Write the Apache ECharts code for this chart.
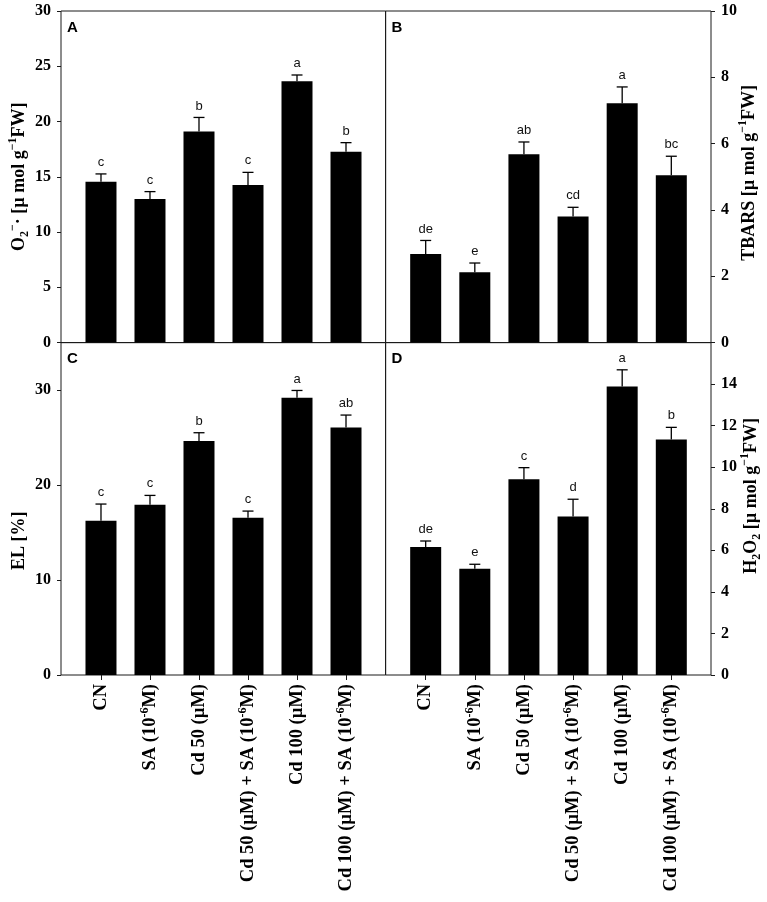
<!DOCTYPE html>
<html>
<head>
<meta charset="utf-8">
<script src="https://cdn.jsdelivr.net/npm/echarts@6/dist/echarts.min.js"></script>
<style>
html,body{margin:0;padding:0;background:#fff;}
#chart{width:767px;height:902px;}
</style>
</head>
<body>
<div id="chart"></div>
<script>
// ---- data ----
const categories = ['CN', 'SA (10{sup|-6}M)', 'Cd 50 (µM)', 'Cd 50 (µM) + SA (10{sup|-6}M)', 'Cd 100 (µM)', 'Cd 100 (µM) + SA (10{sup|-6}M)'];
const positions = [0, 1, 2, 3, 4, 5];

const o2Mean = [14.56, 13.0, 19.1, 14.25, 23.64, 17.27];
const o2Err = [0.70, 0.66, 1.27, 1.15, 0.57, 0.82];
const o2Sig = ['c', 'c', 'b', 'c', 'a', 'b'];

const tbarsMean = [2.67, 2.12, 5.68, 3.80, 7.22, 5.05];
const tbarsErr = [0.41, 0.28, 0.37, 0.28, 0.49, 0.57];
const tbarsSig = ['de', 'e', 'ab', 'cd', 'a', 'bc'];

const elMean = [16.25, 17.93, 24.63, 16.56, 29.19, 26.07];
const elErr = [1.75, 0.98, 0.88, 0.70, 0.77, 1.30];
const elSig = ['c', 'c', 'b', 'c', 'a', 'ab'];

const h2o2Mean = [6.16, 5.12, 9.42, 7.63, 13.89, 11.33];
const h2o2Err = [0.29, 0.21, 0.56, 0.83, 0.80, 0.59];
const h2o2Sig = ['de', 'e', 'c', 'd', 'a', 'b'];

const panelLetters = ['A', 'B', 'C', 'D'];

// ---- layout / style ----
const serif = '"Liberation Serif", "Times New Roman", serif';
const sans = '"Liberation Sans", Arial, sans-serif';
const lineColor = '#1a1a1a';

const richName = {
  sup: { fontSize: 12, fontWeight: 'bold', fontFamily: serif, verticalAlign: 'top', lineHeight: 24, color: '#000' },
  sub: { fontSize: 12, fontWeight: 'bold', fontFamily: serif, verticalAlign: 'bottom', lineHeight: 24, color: '#000' }
};
const richLabel = {
  sup: { fontSize: 12, fontWeight: 'bold', fontFamily: serif, verticalAlign: 'top', lineHeight: 22, color: '#000' }
};

const panels = [
  { mean: o2Mean, err: o2Err, sig: o2Sig, grid: { left: 61, top: 11, width: 324.6, height: 331.6 },
    y: { min: 0, max: 30, interval: 5, position: 'left', showMax: true,
         name: 'O{sub|2}{sup|−}· [µ mol g{sup|−1}FW]', nameGap: 30, pad: [0, 0, 0, 0] }, bottom: false },
  { mean: tbarsMean, err: tbarsErr, sig: tbarsSig, grid: { left: 385.6, top: 11, width: 325.4, height: 331.6 },
    y: { min: 0, max: 10, interval: 2, position: 'right', showMax: true,
         name: 'TBARS [µ mol g{sup|−1}FW]', nameGap: 26, pad: [0, 0, 0, 8] }, bottom: false },
  { mean: elMean, err: elErr, sig: elSig, grid: { left: 61, top: 342.6, width: 324.6, height: 332.4 },
    y: { min: 0, max: 35, interval: 5, labelValues: [0, 10, 20, 30], position: 'left', showMax: true,
         name: 'EL [%]', nameGap: 30, pad: [0, 64, 0, 0] }, bottom: true },
  { mean: h2o2Mean, err: h2o2Err, sig: h2o2Sig, grid: { left: 385.6, top: 342.6, width: 325.4, height: 332.4 },
    y: { min: 0, max: 16, interval: 2, position: 'right', showMax: false,
         name: 'H{sub|2}O{sub|2} [µ mol g{sup|−1}FW]', nameGap: 28, pad: [0, 0, 0, 26] }, bottom: true }
];

const grids = [], xAxes = [], yAxes = [], series = [], titles = [];

panels.forEach((p, i) => {
  grids.push(Object.assign({ show: true, borderColor: lineColor, borderWidth: 1, backgroundColor: 'transparent',
    containLabel: false, outerBoundsMode: 'none' }, p.grid));

  xAxes.push({
    type: 'value', gridIndex: i, min: -0.816, max: 5.808,
    axisLine: { show: false, onZero: false },
    splitLine: { show: false },
    axisTick: { show: p.bottom, customValues: positions, length: 5, lineStyle: { color: lineColor, width: 1 } },
    axisLabel: {
      show: p.bottom, customValues: positions, rotate: 90, margin: 9,
      formatter: v => categories[Math.round(v)],
      fontFamily: serif, fontWeight: 'bold', fontSize: 18.5, color: '#000', lineHeight: 22,
      rich: richLabel
    }
  });

  const yLabel = {
    fontFamily: serif, fontWeight: 'bold', fontSize: 16, color: '#000', margin: 10,
    showMaxLabel: p.y.showMax
  };
  if (p.y.labelValues) yLabel.customValues = p.y.labelValues;
  const yTick = { show: true, length: 4, lineStyle: { color: lineColor, width: 1 } };
  if (p.y.labelValues) yTick.customValues = p.y.labelValues;
  yAxes.push({
    type: 'value', gridIndex: i, min: p.y.min, max: p.y.max, interval: p.y.interval,
    position: p.y.position,
    axisLine: { show: false, onZero: false },
    splitLine: { show: false },
    axisTick: yTick,
    axisLabel: yLabel,
    name: p.y.name,
    nameLocation: 'middle',
    nameRotate: 90,
    nameGap: p.y.nameGap,
    nameMoveOverlap: false,
    nameTextStyle: {
      fontFamily: serif, fontWeight: 'bold', fontSize: 18, color: '#000', lineHeight: 24,
      padding: p.y.pad, rich: richName
    }
  });

  series.push({
    type: 'bar', xAxisIndex: i, yAxisIndex: i,
    barWidth: 31,
    itemStyle: { color: '#000' },
    data: p.mean.map((v, k) => [positions[k], v]),
    z: 2
  });

  const sig = p.sig;
  series.push({
    type: 'custom', xAxisIndex: i, yAxisIndex: i,
    clip: false, z: 3,
    data: p.mean.map((v, k) => [positions[k], v, p.err[k]]),
    encode: { x: 0, y: 1 },
    renderItem: (params, api) => {
      const x = api.value(0), v = api.value(1), e = api.value(2);
      const base = api.coord([x, v]);
      const top = api.coord([x, v + e]);
      const cap = 5.5;
      return {
        type: 'group',
        children: [
          { type: 'line', shape: { x1: base[0], y1: base[1], x2: top[0], y2: top[1] },
            style: { stroke: '#000', lineWidth: 1.3 } },
          { type: 'line', shape: { x1: top[0] - cap, y1: top[1], x2: top[0] + cap, y2: top[1] },
            style: { stroke: '#000', lineWidth: 1.3 } },
          { type: 'text', x: top[0], y: top[1] - 5,
            style: { text: sig[params.dataIndex], align: 'center', verticalAlign: 'bottom',
                     fontFamily: sans, fontSize: 13, fill: '#111' } }
        ]
      };
    }
  });

  titles.push({
    text: panelLetters[i],
    left: p.grid.left + 6,
    top: p.grid.top + 9,
    padding: 0,
    textStyle: { fontFamily: sans, fontWeight: 'bold', fontSize: 15, color: '#000' }
  });
});

const chart = echarts.init(document.getElementById('chart'), null, { renderer: 'canvas' });
chart.setOption({
  backgroundColor: '#fff',
  animation: false,
  title: titles,
  grid: grids,
  xAxis: xAxes,
  yAxis: yAxes,
  series: series
});
</script>
</body>
</html>
